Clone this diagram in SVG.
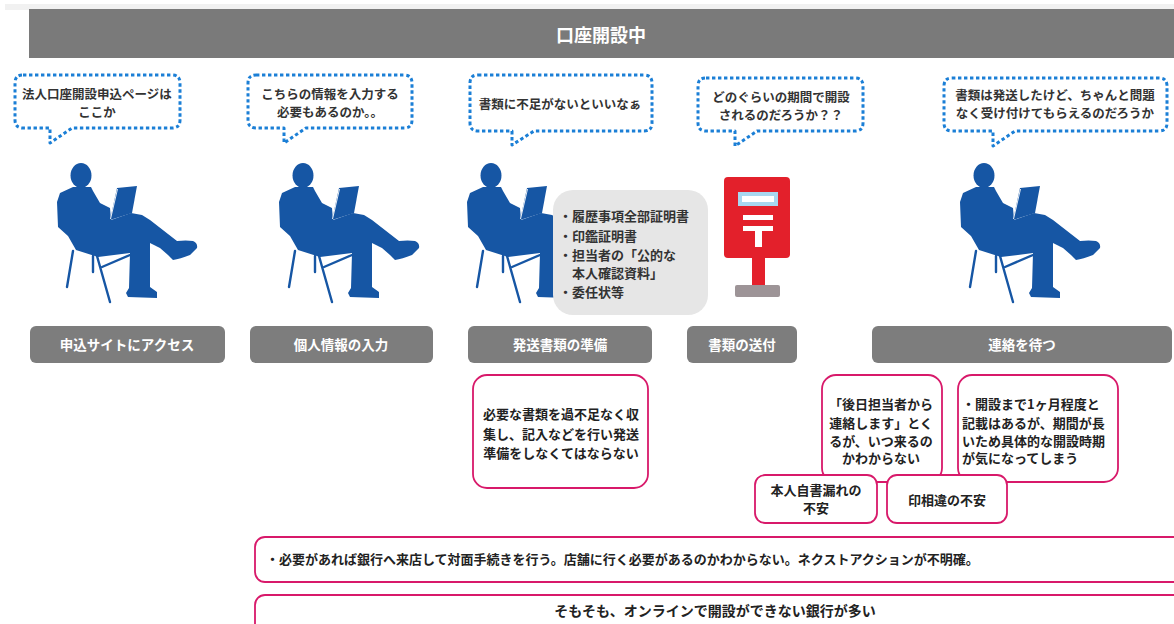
<svg xmlns="http://www.w3.org/2000/svg" xmlns:xlink="http://www.w3.org/1999/xlink" width="1174" height="624" viewBox="0 0 1174 624">
  <style>
    text { font-family: "Noto Sans CJK JP", "Noto Sans", sans-serif; }
    .title { fill: #ffffff; font-size: 18px; font-weight: 700; }
    .step { fill: #7d7d7d; }
    .step-label { fill: #ffffff; font-size: 13.5px; font-weight: 700; }
    .bubble { fill: #ffffff; stroke: #1b7fd6; stroke-width: 3; stroke-dasharray: 3.4 2.6; stroke-linejoin: round; }
    .bubble-text { fill: #333333; font-size: 12.5px; font-weight: 700; }
    .note { fill: #ffffff; stroke: #d8196a; stroke-width: 1.8; }
    .note-text { fill: #222222; font-size: 13px; font-weight: 700; }
    .doc-text { fill: #333333; font-size: 13px; font-weight: 700; }
    .person { fill: #1656a4; }
    .chair { stroke: #1656a4; stroke-width: 2.4; stroke-linecap: round; fill: none; }
  </style>
  <defs>
    <!-- seated reader silhouette, local origin at top-left of its box -->
    <g id="reader">
      <ellipse class="person" cx="41" cy="25.5" rx="10.5" ry="12.5"/>
      <path class="person" d="M33,37 L51,37 L53,41 L60,53 L70,58 L71,70 L91,63 L102,65 L110,70 L137,91 Q146,90 153,91 Q158,93 157,98 L150,105 Q140,109 133,110 L128,105 L120,98 L110,93 L110,137 L117,142 L117,148 L88,147 L86,143 L89,138 L90,103 L58,107 L36,100 L28,86 L18,77 L17,52 L20,43 Z"/>
      <path class="person" d="M70,70 L77,38 L97,36 L92,63 Z"/>
      <line x1="70.5" y1="69" x2="77.5" y2="39" stroke="#ffffff" stroke-width="0.9"/>
      <line class="chair" x1="33" y1="101" x2="27" y2="137"/>
      <line class="chair" x1="57" y1="106" x2="70" y2="152"/>
      <line class="chair" x1="53" y1="106" x2="53" y2="122"/>
      <line class="chair" x1="62" y1="117" x2="90" y2="105"/>
    </g>
  </defs>

  <!-- page strip and header -->
  <rect x="5" y="4" width="1169" height="6" fill="#f1f1f1"/>
  <g id="header">
    <rect x="29" y="9" width="1145" height="49" fill="#7a7a7a"/>
    <text class="title" x="601" y="34" text-anchor="middle" dominant-baseline="central">口座開設中</text>
  </g>

  <!-- speech bubbles -->
  <g id="bubble-1">
    <path class="bubble" d="M23,75 H172 Q180,75 180,83 V120 Q180,128 172,128 H72 L50,143 V128 H23 Q15,128 15,120 V83 Q15,75 23,75 Z"/>
    <text class="bubble-text" x="97" y="93" text-anchor="middle" dominant-baseline="central">法人口座開設申込ページは</text>
    <text class="bubble-text" x="97" y="111" text-anchor="middle" dominant-baseline="central">ここか</text>
  </g>
  <g id="bubble-2">
    <path class="bubble" d="M256,75 H404 Q412,75 412,83 V120 Q412,128 404,128 H306 L284,143 V128 H256 Q248,128 248,120 V83 Q248,75 256,75 Z"/>
    <text class="bubble-text" x="330" y="93" text-anchor="middle" dominant-baseline="central">こちらの情報を入力する</text>
    <text class="bubble-text" x="330" y="111" text-anchor="middle" dominant-baseline="central">必要もあるのか。。</text>
  </g>
  <g id="bubble-3">
    <path class="bubble" d="M478,75 H644 Q652,75 652,83 V123 Q652,131 644,131 H534 L512,145 V131 H478 Q470,131 470,123 V83 Q470,75 478,75 Z"/>
    <text class="bubble-text" x="560" y="103" text-anchor="middle" dominant-baseline="central">書類に不足がないといいなぁ</text>
  </g>
  <g id="bubble-4">
    <path class="bubble" d="M706,78 H855 Q863,78 863,86 V123 Q863,131 855,131 H757 L735,146 V131 H706 Q698,131 698,123 V86 Q698,78 706,78 Z"/>
    <text class="bubble-text" x="781" y="96" text-anchor="middle" dominant-baseline="central">どのぐらいの期間で開設</text>
    <text class="bubble-text" x="781" y="114" text-anchor="middle" dominant-baseline="central">されるのだろうか？？</text>
  </g>
  <g id="bubble-5">
    <path class="bubble" d="M952,78 H1159 Q1167,78 1167,86 V123 Q1167,131 1159,131 H1015 L993,146 V131 H952 Q944,131 944,123 V86 Q944,78 952,78 Z"/>
    <text class="bubble-text" x="1055" y="94" text-anchor="middle" dominant-baseline="central">書類は発送したけど、ちゃんと問題</text>
    <text class="bubble-text" x="1055" y="112" text-anchor="middle" dominant-baseline="central">なく受け付けてもらえるのだろうか</text>
  </g>

  <!-- figures -->
  <g id="person-1"><use xlink:href="#reader" href="#reader" x="40" y="150"/></g>
  <g id="person-2"><use xlink:href="#reader" href="#reader" x="262" y="150"/></g>
  <g id="person-3"><use xlink:href="#reader" href="#reader" x="450" y="150"/></g>
  <g id="person-5"><use xlink:href="#reader" href="#reader" x="943" y="150"/></g>

  <!-- required documents -->
  <g id="documents">
    <rect x="553" y="190" width="155" height="125" rx="20" fill="#e6e6e6"/>
    <text class="doc-text" x="559" y="215" dominant-baseline="central">・履歴事項全部証明書</text>
    <text class="doc-text" x="559" y="235" dominant-baseline="central">・印鑑証明書</text>
    <text class="doc-text" x="559" y="254" dominant-baseline="central">・担当者の「公的な</text>
    <text class="doc-text" x="572" y="272" dominant-baseline="central">本人確認資料」</text>
    <text class="doc-text" x="559" y="291" dominant-baseline="central">・委任状等</text>
  </g>

  <!-- post box -->
  <g id="postbox">
    <rect x="724" y="177" width="66" height="81" rx="4" fill="#e3202b"/>
    <rect x="752" y="256" width="13" height="30" fill="#e3202b"/>
    <rect x="735" y="285" width="45" height="12" rx="2" fill="#9d9497"/>
    <rect x="738" y="192" width="40" height="14" fill="#a8d7f0"/>
    <rect x="742" y="196" width="32" height="6" fill="#ffffff"/>
    <rect x="743" y="215" width="30" height="5" fill="#ffffff"/>
    <rect x="743" y="226" width="30" height="5" fill="#ffffff"/>
    <rect x="755" y="230" width="7" height="17" fill="#ffffff"/>
  </g>

  <!-- process steps -->
  <g id="step-1">
    <rect class="step" x="30" y="326" width="195" height="37" rx="6"/>
    <text class="step-label" x="127" y="344" text-anchor="middle" dominant-baseline="central">申込サイトにアクセス</text>
  </g>
  <g id="step-2">
    <rect class="step" x="250" y="326" width="183" height="37" rx="6"/>
    <text class="step-label" x="341" y="344" text-anchor="middle" dominant-baseline="central">個人情報の入力</text>
  </g>
  <g id="step-3">
    <rect class="step" x="468" y="326" width="184" height="37" rx="6"/>
    <text class="step-label" x="560" y="344" text-anchor="middle" dominant-baseline="central">発送書類の準備</text>
  </g>
  <g id="step-4">
    <rect class="step" x="687" y="326" width="110" height="37" rx="6"/>
    <text class="step-label" x="742" y="344" text-anchor="middle" dominant-baseline="central">書類の送付</text>
  </g>
  <g id="step-5">
    <rect class="step" x="872" y="326" width="300" height="37" rx="6"/>
    <text class="step-label" x="1022" y="344" text-anchor="middle" dominant-baseline="central">連絡を待つ</text>
  </g>

  <!-- pain points -->
  <g id="note-prepare">
    <rect class="note" x="473" y="375" width="175" height="113" rx="14"/>
    <text class="note-text" x="561" y="413" text-anchor="middle" dominant-baseline="central">必要な書類を過不足なく収</text>
    <text class="note-text" x="561" y="433" text-anchor="middle" dominant-baseline="central">集し、記入などを行い発送</text>
    <text class="note-text" x="561" y="452" text-anchor="middle" dominant-baseline="central">準備をしなくてはならない</text>
  </g>
  <g id="note-contact">
    <rect class="note" x="822" y="375" width="120" height="107" rx="14"/>
    <text class="note-text" x="881" y="403" text-anchor="middle" dominant-baseline="central">「後日担当者から</text>
    <text class="note-text" x="881" y="422" text-anchor="middle" dominant-baseline="central">連絡します」とく</text>
    <text class="note-text" x="881" y="440" text-anchor="middle" dominant-baseline="central">るが、いつ来るの</text>
    <text class="note-text" x="881" y="457" text-anchor="middle" dominant-baseline="central">かわからない</text>
  </g>
  <g id="note-period">
    <rect class="note" x="958" y="375" width="160" height="107" rx="14"/>
    <text class="note-text" x="962" y="403" dominant-baseline="central">・開設まで1ヶ月程度と</text>
    <text class="note-text" x="962" y="422" dominant-baseline="central">記載はあるが、期間が長</text>
    <text class="note-text" x="962" y="440" dominant-baseline="central">いため具体的な開設時期</text>
    <text class="note-text" x="962" y="457" dominant-baseline="central">が気になってしまう</text>
  </g>
  <g id="note-signature">
    <rect class="note" x="755" y="475" width="122" height="48" rx="10"/>
    <text class="note-text" x="816" y="489" text-anchor="middle" dominant-baseline="central">本人自書漏れの</text>
    <text class="note-text" x="816" y="507" text-anchor="middle" dominant-baseline="central">不安</text>
  </g>
  <g id="note-seal">
    <rect class="note" x="887" y="475" width="120" height="48" rx="10"/>
    <text class="note-text" x="947" y="499" text-anchor="middle" dominant-baseline="central">印相違の不安</text>
  </g>
  <g id="note-branch">
    <rect class="note" x="255" y="537" width="930" height="45" rx="10"/>
    <text class="note-text" x="266" y="558" dominant-baseline="central">・必要があれば銀行へ来店して対面手続きを行う。店舗に行く必要があるのかわからない。ネクストアクションが不明確。</text>
  </g>
  <g id="note-online">
    <rect class="note" x="255" y="595" width="930" height="45" rx="10"/>
    <text class="note-text" x="715" y="610" text-anchor="middle" dominant-baseline="central" style="font-size:14px">そもそも、オンラインで開設ができない銀行が多い</text>
  </g>

  <!-- no connectors in this flow -->
  <g id="connectors"/>
</svg>
